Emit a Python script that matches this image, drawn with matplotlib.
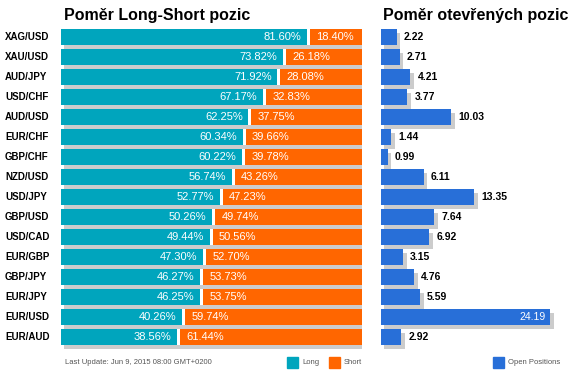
import matplotlib
matplotlib.use("Agg")
import matplotlib.pyplot as plt
from matplotlib.patches import Rectangle

plt.rcParams['font.family'] = ['Liberation Sans', 'DejaVu Sans']

# data
pairs = ["XAG/USD", "XAU/USD", "AUD/JPY", "USD/CHF", "AUD/USD", "EUR/CHF", "GBP/CHF", "NZD/USD",
         "USD/JPY", "GBP/USD", "USD/CAD", "EUR/GBP", "GBP/JPY", "EUR/JPY", "EUR/USD", "EUR/AUD"]
long_pct = [81.60, 73.82, 71.92, 67.17, 62.25, 60.34, 60.22, 56.74,
            52.77, 50.26, 49.44, 47.30, 46.27, 46.25, 40.26, 38.56]
short_pct = [18.40, 26.18, 28.08, 32.83, 37.75, 39.66, 39.78, 43.26,
             47.23, 49.74, 50.56, 52.70, 53.73, 53.75, 59.74, 61.44]
open_pos = [2.22, 2.71, 4.21, 3.77, 10.03, 1.44, 0.99, 6.11,
            13.35, 7.64, 6.92, 3.15, 4.76, 5.59, 24.19, 2.92]

c_long = "#00a5bd"
c_short = "#ff6600"
c_open = "#286fd8"
c_shadow = "#cccccc"

W, H = 575, 384
fig = plt.figure(figsize=(W / 100, H / 100), dpi=100)

def px_axes(x0, y0, x1, y1):
    return fig.add_axes([x0 / W, 1 - y1 / H, (x1 - x0) / W, (y1 - y0) / H])

n = len(pairs)
ylim = (n - 1 + 0.625, -0.5)
bh = 0.8
ys = list(range(n))

# left panel: long/short ratio
ax1 = px_axes(61, 27, 362, 350)
ax1.set_xlim(0, 100)
ax1.set_ylim(*ylim)
ax1.axis("off")
ax1.barh([y + 0.2 for y in ys], [100] * n, left=1.0, height=bh, color=c_shadow, zorder=1)
ax1.barh(ys, long_pct, height=bh, color=c_long, zorder=2)
ax1.barh(ys, short_pct, left=long_pct, height=bh, color=c_short, zorder=2)
ax1.barh(ys, [1.0] * n, left=long_pct, height=bh, color="white", zorder=2)
for y, lo, sh, name in zip(ys, long_pct, short_pct, pairs):
    ax1.text(lo - 1.9, y, f"{lo:.2f}%", color="white", fontsize=8,
             ha="right", va="center", zorder=3)
    ax1.text(lo + 3.0, y, f"{sh:.2f}%", color="white", fontsize=8,
             ha="left", va="center", zorder=3)
    ax1.text(-18.6, y, name, fontsize=7, fontweight="bold", ha="left", va="center", clip_on=False)
ax1.set_title("Poměr Long-Short pozic", fontsize=11.5, fontweight="bold", loc="left",
              x=0.01, y=1.005, pad=4)

# right panel: open positions
ax2 = px_axes(381, 27, 575, 350)
ax2.set_xlim(0, 194 / 6.99)
ax2.set_ylim(*ylim)
ax2.axis("off")
ax2.barh([y + 0.2 for y in ys], open_pos, left=0.5, height=bh, color=c_shadow, zorder=1)
ax2.barh(ys, open_pos, height=bh, color=c_open, zorder=2)
for y, v in zip(ys, open_pos):
    if v > 20:
        ax2.text(v - 0.7, y, f"{v:.2f}", color="white", fontsize=7.5,
                 ha="right", va="center", zorder=3)
    else:
        ax2.text(v + 1.0, y, f"{v:.2f}", color="black", fontsize=7.5, fontweight="bold",
                 ha="left", va="center", zorder=3)
ax2.set_title("Poměr otevřených pozic", fontsize=11.5, fontweight="bold", loc="left",
              x=0.01, y=1.005, pad=4)

# footer / legend
fig.text(65 / W, 1 - 363 / H, "Last Update: Jun 9, 2015 08:00 GMT+0200", fontsize=5.5,
         color="#555555", va="center")
for x0, col, lab in [(287, c_long, "Long"), (329, c_short, "Short"), (493, c_open, "Open Positions")]:
    fig.patches.append(Rectangle((x0 / W, 1 - 368 / H), 11 / W, 11 / H, color=col,
                                 transform=fig.transFigure, figure=fig))
    fig.text((x0 + 15) / W, 1 - 362 / H, lab, fontsize=5.5, color="#555555", va="center")

fig.savefig("out.png", dpi=100)
